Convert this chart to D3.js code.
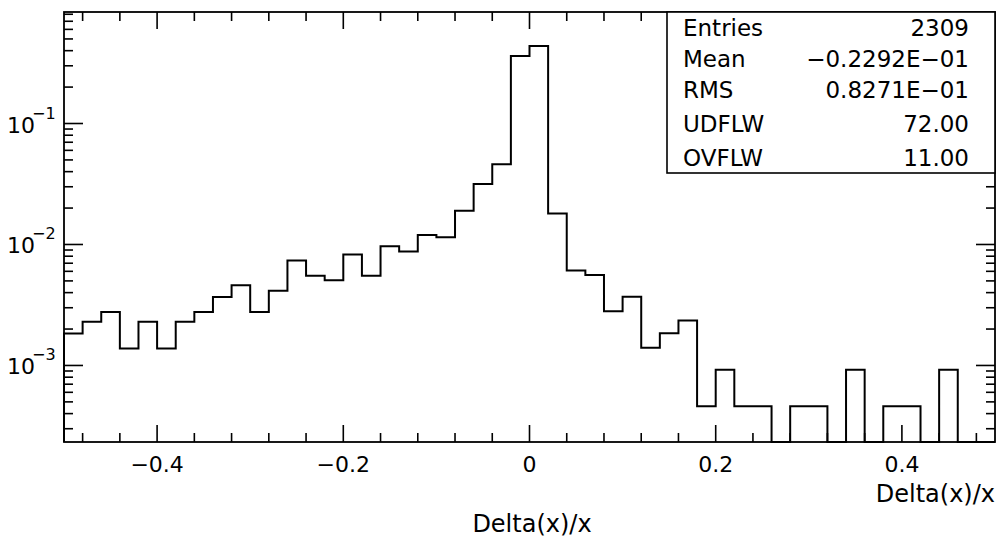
<!DOCTYPE html>
<html>
<head>
<meta charset="utf-8">
<script src="https://cdn.jsdelivr.net/npm/d3@7"></script>
<style>
  body { margin: 0; background: #fff; }
  text { font-family: "DejaVu Sans", sans-serif; fill: #000; }
</style>
</head>
<body>
<div id="canvas"></div>
<script>
"use strict";

/* Data: histogram of Delta(x)/x, 50 bins of 0.02 from -0.5 to 0.5 */
let binStart = -0.5;
let binWidth = 0.02;
let binValues = [
  1.84e-3, 2.30e-3, 2.76e-3, 1.38e-3, 2.30e-3, 1.38e-3, 2.30e-3, 2.76e-3, 3.68e-3, 4.60e-3,
  2.76e-3, 4.14e-3, 7.36e-3, 5.52e-3, 5.06e-3, 8.28e-3, 5.52e-3, 9.66e-3, 8.74e-3, 1.196e-2,
  1.15e-2, 1.90e-2, 3.16e-2, 4.60e-2, 0.361, 0.437, 1.80e-2, 6.10e-3, 5.60e-3, 2.80e-3,
  3.70e-3, 1.40e-3, 1.85e-3, 2.35e-3, 4.6e-4, 9.2e-4, 4.6e-4, 4.6e-4, 0, 4.6e-4,
  4.6e-4, 0, 9.2e-4, 0, 4.6e-4, 4.6e-4, 0, 9.2e-4, 0, 0
];

/* Axis labels and statistics box */
let xMajorTicks = [-0.4, -0.2, 0, 0.2, 0.4];
let xTickLabels = ["\u22120.4", "\u22120.2", "0", "0.2", "0.4"];
let yDecades = [1e-1, 1e-2, 1e-3];
let yDecadeExps = ["\u22121", "\u22122", "\u22123"];
let statNames = ["Entries", "Mean", "RMS", "UDFLW", "OVFLW"];
let statValues = ["2309", "\u22120.2292E\u221201", "0.8271E\u221201", "72.00", "11.00"];
let xTitle = "Delta(x)/x";

/* Drawing configuration */
let svgWidth = 1001;
let svgHeight = 538;
let plotLeft = 64, plotRight = 995, plotTop = 12, plotBottom = 442;

let svg = d3.select("#canvas")
  .append("svg")
  .attr("width", svgWidth)
  .attr("height", svgHeight);

let xScale = d3.scaleLinear()
  .domain([-0.5, 0.5])
  .range([plotLeft, plotRight]);

let yScale = d3.scaleLog()
  .domain([2.33e-4, 0.835])
  .range([plotBottom, plotTop]);

let yMin = yScale.domain()[0];

/* Histogram outline */
let path = d3.path();
path.moveTo(xScale(binStart), plotBottom);
for (let i = 0; i < binValues.length; i = i + 1) {
  let x0 = xScale(binStart + i * binWidth);
  let x1 = xScale(binStart + (i + 1) * binWidth);
  let y = binValues[i] > yMin ? yScale(binValues[i]) : plotBottom;
  path.lineTo(x0, y);
  path.lineTo(x1, y);
}
path.lineTo(xScale(binStart + binValues.length * binWidth), plotBottom);

svg.append("path")
  .attr("d", path.toString())
  .attr("fill", "none")
  .attr("stroke", "black")
  .attr("stroke-width", 2);

/* Frame */
svg.append("rect")
  .attr("x", plotLeft)
  .attr("y", plotTop)
  .attr("width", plotRight - plotLeft)
  .attr("height", plotBottom - plotTop)
  .attr("fill", "none")
  .attr("stroke", "black")
  .attr("stroke-width", 1.8);

/* X ticks, bottom and top, every 0.04 with longer ones at labels */
let xMinorTicks = d3.range(-12, 13).map(function (k) { return k * 0.04; })
  .filter(function (v) { return v > -0.5 && v < 0.5; });

let ticks = svg.append("g").attr("stroke", "black").attr("stroke-width", 1.6);

xMinorTicks.forEach(function (v) {
  let isMajor = xMajorTicks.some(function (m) { return Math.abs(m - v) < 1e-6; });
  let len = isMajor ? 17 : 9;
  ticks.append("line")
    .attr("x1", xScale(v)).attr("x2", xScale(v))
    .attr("y1", plotBottom).attr("y2", plotBottom - len);
  ticks.append("line")
    .attr("x1", xScale(v)).attr("x2", xScale(v))
    .attr("y1", plotTop).attr("y2", plotTop + len);
});

/* Y ticks, left and right, log scale */
yScale.ticks().forEach(function (v) {
  let isMajor = yDecades.some(function (d) { return Math.abs(d - v) / d < 1e-6; });
  let len = isMajor ? 19 : 9;
  ticks.append("line")
    .attr("x1", plotLeft).attr("x2", plotLeft + len)
    .attr("y1", yScale(v)).attr("y2", yScale(v));
  ticks.append("line")
    .attr("x1", plotRight).attr("x2", plotRight - len)
    .attr("y1", yScale(v)).attr("y2", yScale(v));
});

/* X tick labels */
for (let i = 0; i < xMajorTicks.length; i = i + 1) {
  svg.append("text")
    .attr("x", xScale(xMajorTicks[i]))
    .attr("y", 472)
    .attr("text-anchor", "middle")
    .attr("font-size", "22px")
    .text(xTickLabels[i]);
}

/* Y tick labels: 10 with exponent */
for (let i = 0; i < yDecades.length; i = i + 1) {
  let label = svg.append("text")
    .attr("x", 7)
    .attr("y", yScale(yDecades[i]) + 9)
    .attr("font-size", "22px");
  label.append("tspan").text("10");
  label.append("tspan")
    .attr("font-size", "16px")
    .attr("dx", -3)
    .attr("dy", -14)
    .text(yDecadeExps[i]);
}

/* Axis titles */
svg.append("text")
  .attr("x", plotRight)
  .attr("y", 502)
  .attr("text-anchor", "end")
  .attr("font-size", "24px")
  .text(xTitle);

svg.append("text")
  .attr("x", 532)
  .attr("y", 532)
  .attr("text-anchor", "middle")
  .attr("font-size", "24px")
  .text(xTitle);

/* Statistics box */
let boxLeft = 667, boxBottom = 173;
svg.append("rect")
  .attr("x", boxLeft)
  .attr("y", plotTop)
  .attr("width", plotRight - boxLeft)
  .attr("height", boxBottom - plotTop)
  .attr("fill", "white")
  .attr("stroke", "black")
  .attr("stroke-width", 1.6);

let statBaselines = [36, 67, 97.5, 132, 165.5];
for (let i = 0; i < statNames.length; i = i + 1) {
  svg.append("text")
    .attr("x", 683)
    .attr("y", statBaselines[i])
    .attr("font-size", "23px")
    .text(statNames[i]);
  svg.append("text")
    .attr("x", 969)
    .attr("y", statBaselines[i])
    .attr("text-anchor", "end")
    .attr("font-size", "23px")
    .text(statValues[i]);
}
</script>
</body>
</html>
